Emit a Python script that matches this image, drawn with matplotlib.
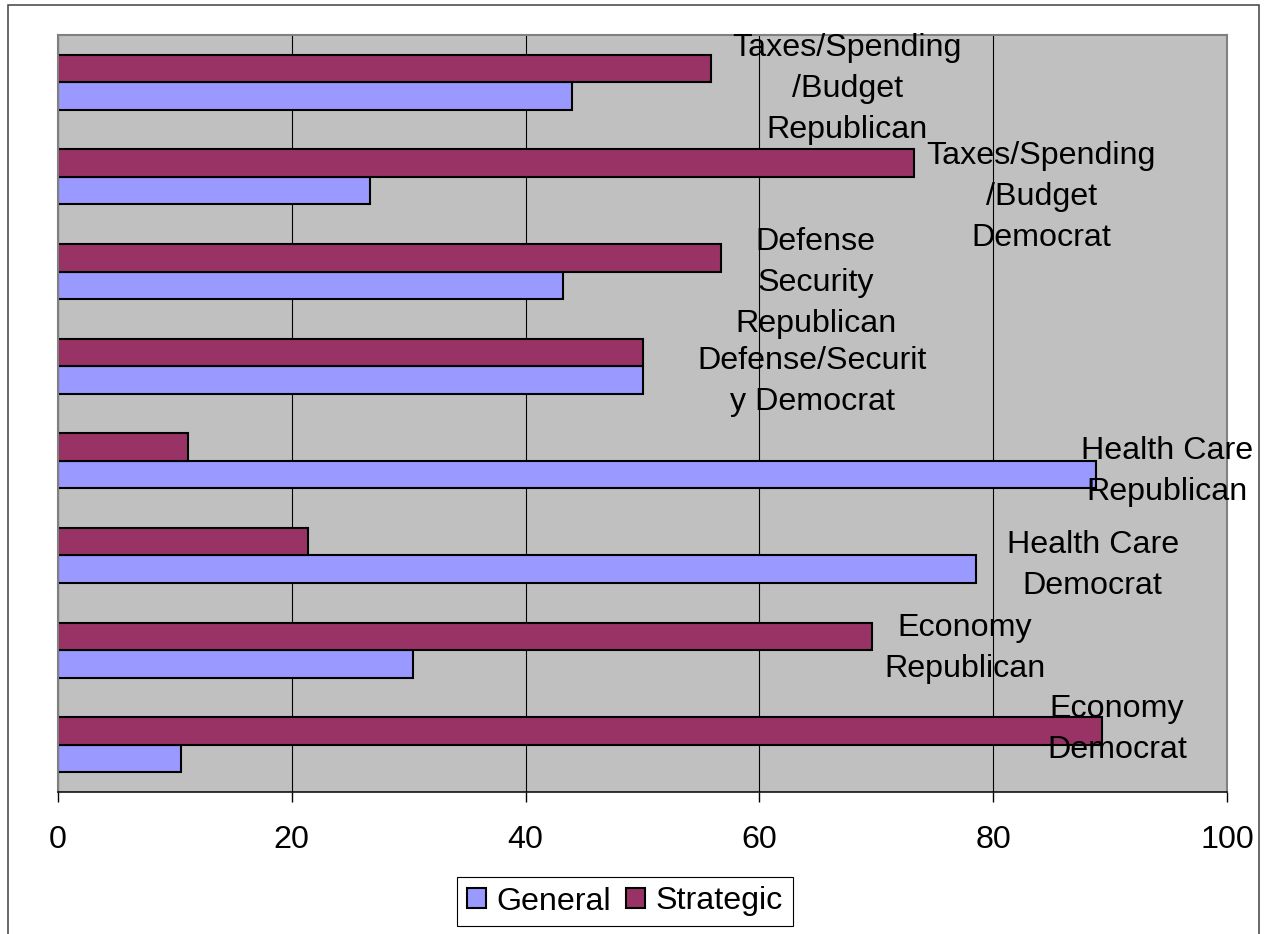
import numpy as np
import matplotlib
matplotlib.use("Agg")
import matplotlib.pyplot as plt
from matplotlib.patches import Rectangle

# ── data (bottom to top) ─────────────────────────────────────────────────────
categories = ["Economy\nDemocrat", "Economy\nRepublican",
              "Health Care\nDemocrat", "Health Care\nRepublican",
              "Defense/Securit\ny Democrat", "Defense\nSecurity\nRepublican",
              "Taxes/Spending\n/Budget\nDemocrat", "Taxes/Spending\n/Budget\nRepublican"]
general   = [10.5, 30.4, 78.5, 88.8, 50.0, 43.2, 26.7, 44.0]
strategic = [89.3, 69.6, 21.4, 11.1, 50.0, 56.7, 73.2, 55.9]
xticks    = [0, 20, 40, 60, 80, 100]

# label placement (x in data units, y offset from category centre)
lab_x  = [90.6, 77.6, 88.5, 94.9, 64.5, 64.8, 84.1, 67.5]
lab_dy = [0.16, 0.02, -0.11, -0.11, -0.16, -0.12, -0.21, -0.07]

GEN = "#9999FF"
STR = "#993366"
BG  = "#C0C0C0"
FS  = 23.2

plt.rcParams["font.family"] = ["Liberation Sans", "DejaVu Sans"]

fig = plt.figure(figsize=(12.69, 9.34), dpi=100)
ax = fig.add_axes([58 / 1269, 1 - 792 / 934, (1227 - 58) / 1269, (792 - 35) / 934])
ax.set_facecolor(BG)

y = np.arange(len(categories))
h = 0.29
b_gen = ax.barh(y - h / 2, general, height=h, color=GEN, edgecolor="black",
                lw=1.5, label="General", zorder=2)
b_str = ax.barh(y + h / 2, strategic, height=h, color=STR, edgecolor="black",
                lw=1.5, label="Strategic", zorder=2)

for i, txt in enumerate(categories):
    ax.text(lab_x[i], y[i] + lab_dy[i], txt, ha="center", va="center",
            fontsize=FS, linespacing=1.49, color="black", zorder=4, clip_on=False)

ax.set_xlim(0, 100)
ax.set_ylim(-0.5, len(categories) - 0.5)
ax.set_xticks(xticks)
ax.set_yticks([])
ax.xaxis.grid(True, color="black", lw=0.8)
ax.set_axisbelow(True)
ax.tick_params(axis="x", direction="out", length=7.2, width=1.0, pad=16.5,
               labelsize=FS, colors="black")

for side in ("top", "left", "right"):
    ax.spines[side].set_color("#808080")
    ax.spines[side].set_linewidth(1.5)
ax.spines["bottom"].set_color("black")
ax.spines["bottom"].set_linewidth(1.1)

leg = fig.legend(handles=[b_gen, b_str], loc="center",
                 bbox_to_anchor=(625 / 1269, 1 - 901.5 / 934), ncol=2,
                 fontsize=FS, frameon=True, fancybox=False, shadow=False,
                 framealpha=1, edgecolor="black", borderpad=0.3,
                 handlelength=0.6, handleheight=0.6, handletextpad=0.33,
                 columnspacing=0.45, borderaxespad=0)
leg.get_frame().set_linewidth(0.8)

# outer chart frame
fig.patches.append(Rectangle((8 / 1269, -0.02), (1259 - 8) / 1269, 1.02 - 5 / 934,
                             transform=fig.transFigure, fill=False,
                             edgecolor="#404040", lw=1.1))

fig.savefig("out.png", dpi=100, facecolor="white")
